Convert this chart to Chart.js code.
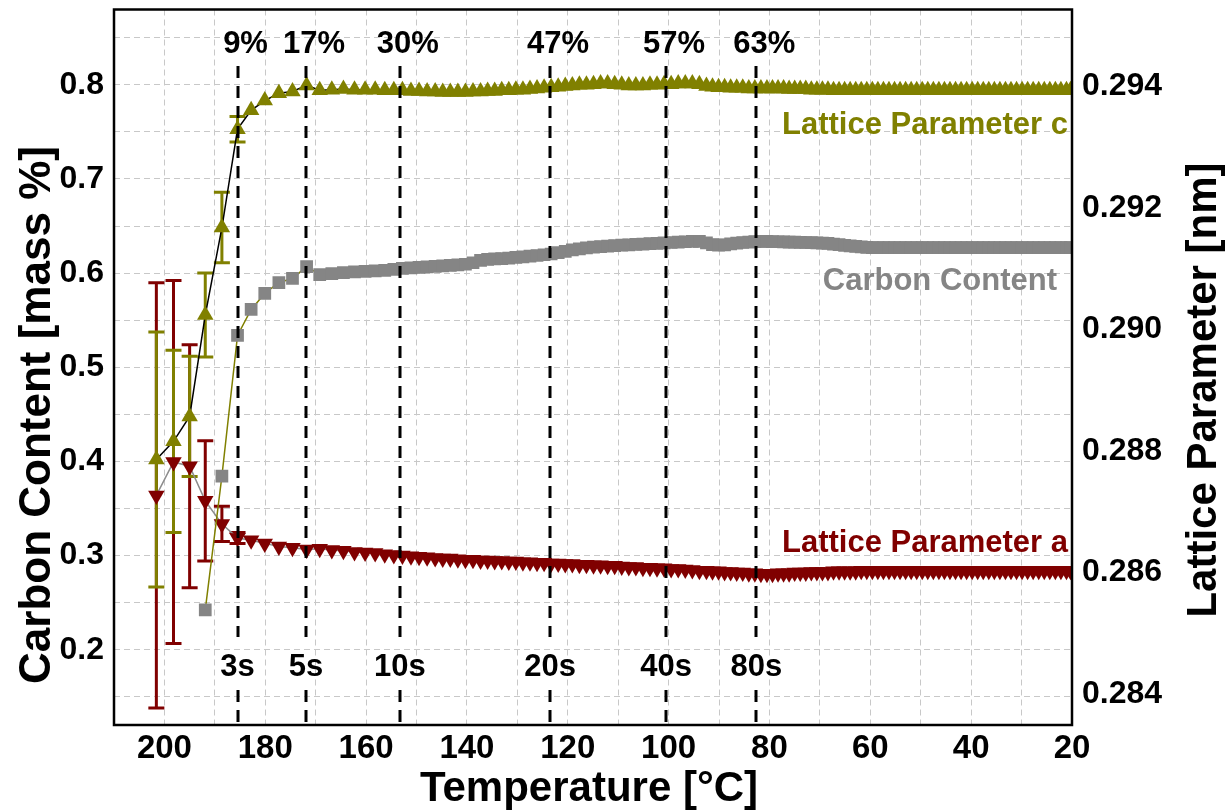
<!DOCTYPE html>
<html>
<head>
<meta charset="utf-8">
<script src="https://cdn.jsdelivr.net/npm/chart.js@4.4.1/dist/chart.umd.min.js"></script>
<style>
  html, body { margin: 0; padding: 0; background: #fff; }
  #contenedor { width: 1228px; height: 810px; }
</style>
</head>
<body>
<div id="contenedor"><canvas id="chartTemple" width="1228" height="810"></canvas></div>
<script>
// temperatura de cada medida [°C]
const temperaturas = [
    201.6, 198.2, 195.0, 191.9, 188.6, 185.5, 182.8, 180.1, 177.3, 174.6, 171.8, 169.2,
    166.8, 164.5, 162.3, 160.2, 158.2, 156.3, 154.5, 152.8, 151.1, 149.5,
    147.9, 146.3, 144.8, 143.3, 141.8, 140.3, 138.8, 137.3, 135.9, 134.5,
    133.1, 131.7, 130.3, 128.9, 127.5, 126.1, 124.7, 123.3, 121.9, 120.5,
    119.1, 117.7, 116.3, 114.9, 113.5, 112.1, 110.7, 109.3, 107.9, 106.5,
    105.1, 103.7, 102.3, 100.9, 99.5, 98.1, 96.7, 95.3, 93.9, 92.5,
    91.3, 90.1, 88.9, 87.7, 86.5, 85.3, 84.1, 82.9, 81.7, 80.5,
    79.4, 78.3, 77.2, 76.1, 75.0, 73.9, 72.8, 71.7, 70.6, 69.5,
    68.4, 67.3, 66.2, 65.1, 64.0, 62.9, 61.8, 60.7, 59.6, 58.5,
    57.4, 56.3, 55.2, 54.1, 53.0, 51.9, 50.8, 49.7, 48.6, 47.5,
    46.4, 45.3, 44.2, 43.1, 42.0, 40.9, 39.8, 38.7, 37.6, 36.5,
    35.4, 34.3, 33.2, 32.1, 31.0, 29.9, 28.8, 27.7, 26.6, 25.5,
    24.4, 23.3, 22.2, 21.1, 20.3
];

// parametro de red c [nm]
const paramC = [
    0.28786, 0.28816, 0.28857, 0.29024, 0.29168, 0.29330, 0.29361, 0.29377, 0.29389, 0.29392, 0.29402, 0.29394,
    0.29395, 0.29396, 0.29395, 0.29395, 0.29395, 0.29394, 0.29394, 0.29394, 0.29393, 0.29393,
    0.29392, 0.29392, 0.29391, 0.29391, 0.29391, 0.29391, 0.29392, 0.29392, 0.29393, 0.29393,
    0.29394, 0.29394, 0.29395, 0.29395, 0.29396, 0.29397, 0.29398, 0.29399, 0.29400, 0.29401,
    0.29402, 0.29403, 0.29403, 0.29404, 0.29405, 0.29405, 0.29404, 0.29403, 0.29402, 0.29402,
    0.29402, 0.29403, 0.29403, 0.29404, 0.29404, 0.29405, 0.29405, 0.29405, 0.29404, 0.29401,
    0.29400, 0.29399, 0.29399, 0.29398, 0.29398, 0.29398, 0.29397, 0.29397, 0.29397, 0.29397,
    0.29397, 0.29397, 0.29397, 0.29396, 0.29396, 0.29396, 0.29396, 0.29395, 0.29395, 0.29395,
    0.29395, 0.29394, 0.29394, 0.29394, 0.29394, 0.29394, 0.29394, 0.29394, 0.29394, 0.29394,
    0.29394, 0.29394, 0.29394, 0.29394, 0.29394, 0.29394, 0.29394, 0.29394, 0.29394, 0.29394,
    0.29394, 0.29394, 0.29394, 0.29394, 0.29394, 0.29394, 0.29394, 0.29394, 0.29394, 0.29394,
    0.29394, 0.29394, 0.29394, 0.29394, 0.29394, 0.29394, 0.29394, 0.29394, 0.29394, 0.29394,
    0.29394, 0.29394, 0.29394, 0.29394, 0.29394
];

// contenido de carbono [% masa]
const carbono = [
    null, null, null, 0.2422, 0.3843, 0.5338, 0.5614, 0.5784, 0.5900, 0.5943, 0.6070, 0.5985,
    0.5995, 0.6005, 0.6012, 0.6018, 0.6024, 0.6030, 0.6040, 0.6050, 0.6056, 0.6062,
    0.6067, 0.6072, 0.6077, 0.6082, 0.6088, 0.6094, 0.6110, 0.6135, 0.6145, 0.6150,
    0.6155, 0.6160, 0.6166, 0.6172, 0.6180, 0.6187, 0.6195, 0.6203, 0.6218, 0.6232,
    0.6246, 0.6258, 0.6268, 0.6276, 0.6282, 0.6287, 0.6292, 0.6297, 0.6301, 0.6305,
    0.6309, 0.6313, 0.6317, 0.6321, 0.6325, 0.6329, 0.6333, 0.6336, 0.6338, 0.6320,
    0.6302, 0.6296, 0.6300, 0.6310, 0.6318, 0.6325, 0.6330, 0.6335, 0.6336, 0.6336,
    0.6335, 0.6333, 0.6331, 0.6330, 0.6328, 0.6326, 0.6325, 0.6324, 0.6322, 0.6319,
    0.6315, 0.6309, 0.6302, 0.6295, 0.6289, 0.6283, 0.6278, 0.6274, 0.6271, 0.6270,
    0.6270, 0.6270, 0.6270, 0.6270, 0.6270, 0.6270, 0.6270, 0.6270, 0.6270, 0.6270,
    0.6270, 0.6270, 0.6270, 0.6270, 0.6270, 0.6270, 0.6270, 0.6270, 0.6270, 0.6270,
    0.6270, 0.6270, 0.6270, 0.6270, 0.6270, 0.6270, 0.6270, 0.6270, 0.6270, 0.6270,
    0.6270, 0.6270, 0.6270, 0.6270, 0.6270
];

// parametro de red a [nm]
const paramA = [
    0.28727, 0.28782, 0.28775, 0.28718, 0.28680, 0.28657, 0.28653, 0.28648, 0.28643, 0.28641, 0.28638, 0.28639,
    0.28637, 0.28636, 0.28634, 0.28633, 0.28632, 0.28630, 0.28629, 0.28628, 0.28627, 0.28626,
    0.28625, 0.28624, 0.28623, 0.28623, 0.28622, 0.28621, 0.28621, 0.28620, 0.28620, 0.28619,
    0.28619, 0.28618, 0.28618, 0.28617, 0.28617, 0.28616, 0.28616, 0.28615, 0.28615, 0.28614,
    0.28614, 0.28613, 0.28613, 0.28612, 0.28612, 0.28611, 0.28611, 0.28610, 0.28609, 0.28609,
    0.28608, 0.28608, 0.28607, 0.28607, 0.28606, 0.28606, 0.28605, 0.28604, 0.28603, 0.28603,
    0.28602, 0.28602, 0.28601, 0.28601, 0.28600, 0.28600, 0.28599, 0.28599, 0.28598, 0.28598,
    0.28598, 0.28599, 0.28599, 0.28599, 0.28600, 0.28600, 0.28600, 0.28601, 0.28601, 0.28601,
    0.28601, 0.28602, 0.28602, 0.28602, 0.28602, 0.28602, 0.28603, 0.28603, 0.28603, 0.28603,
    0.28603, 0.28603, 0.28603, 0.28603, 0.28603, 0.28603, 0.28603, 0.28603, 0.28603, 0.28603,
    0.28603, 0.28603, 0.28603, 0.28603, 0.28603, 0.28603, 0.28603, 0.28603, 0.28603, 0.28603,
    0.28603, 0.28603, 0.28603, 0.28603, 0.28603, 0.28603, 0.28603, 0.28603, 0.28603, 0.28603,
    0.28603, 0.28603, 0.28603, 0.28603, 0.28603
];

// barras de error (solo las primeras medidas)
const errorC = [0.00210, 0.00150, 0.00099, 0.00069, 0.00058, 0.00021];
const errorA = [0.00350, 0.00299, 0.00200, 0.00099, 0.00029, 0.00009];

// marcas de tiempo / fraccion transformada
const marcasT = [185.5, 171.9, 153.3, 123.5, 100.5, 82.6];
const etiquetasPct = ["9%", "17%", "30%", "47%", "57%", "63%"];
const etiquetasSeg = ["3s", "5s", "10s", "20s", "40s", "80s"];

// ticks de los ejes
const ticksTemp = [200, 190, 180, 170, 160, 150, 140, 130, 120, 110, 100, 90, 80, 70, 60, 50, 40, 30, 20];
const ticksCarbono = [0.15, 0.2, 0.25, 0.3, 0.35, 0.4, 0.45, 0.5, 0.55, 0.6, 0.65, 0.7, 0.75, 0.8, 0.85];
const ticksRed = [0.284, 0.286, 0.288, 0.290, 0.292, 0.294];

const OLIVA = "#808000";
const GRIS = "#858585";
const GRANATE = "#800000";
const FUENTE = '"Liberation Sans", Arial, sans-serif';

Chart.defaults.font.family = FUENTE;
Chart.defaults.font.weight = "bold";
Chart.defaults.color = "#000";

const puntos = (valores) => temperaturas.map((t, i) => ({ x: t, y: valores[i] }));

// barras de error por debajo de los marcadores
const barrasError = {
    id: "barrasError",
    beforeDatasetsDraw(chart) {
        const ctx = chart.ctx;
        const ejeX = chart.scales.x, ejeY = chart.scales.yRed;
        [[paramA, errorA, GRANATE], [paramC, errorC, OLIVA]].forEach(([valores, errores, color]) => {
            ctx.save();
            ctx.strokeStyle = color;
            ctx.lineWidth = 3;
            errores.forEach((e, i) => {
                const px = ejeX.getPixelForValue(temperaturas[i]);
                const arriba = ejeY.getPixelForValue(valores[i] + e);
                const abajo = ejeY.getPixelForValue(valores[i] - e);
                ctx.beginPath();
                ctx.moveTo(px, arriba); ctx.lineTo(px, abajo);
                ctx.moveTo(px - 8, arriba); ctx.lineTo(px + 8, arriba);
                ctx.moveTo(px - 8, abajo); ctx.lineTo(px + 8, abajo);
                ctx.stroke();
            });
            ctx.restore();
        });
    }
};

// lineas de tiempo, marco y rotulos
const anotaciones = {
    id: "anotaciones",
    afterDatasetsDraw(chart) {
        const ctx = chart.ctx;
        const { top, bottom, left, right } = chart.chartArea;
        const ejeX = chart.scales.x;

        ctx.save();
        ctx.strokeStyle = "#000";
        ctx.lineWidth = 3;
        ctx.setLineDash([12, 8]);
        marcasT.forEach((t) => {
            const px = Math.round(ejeX.getPixelForValue(t));
            ctx.beginPath();
            ctx.moveTo(px, 66); ctx.lineTo(px, 637);
            ctx.moveTo(px, 690); ctx.lineTo(px, bottom);
            ctx.stroke();
        });
        ctx.setLineDash([]);

        ctx.lineWidth = 2.5;
        ctx.strokeRect(left, top, right - left, bottom - top);

        ctx.fillStyle = "#000";
        ctx.textAlign = "center";
        ctx.textBaseline = "alphabetic";
        ctx.font = "bold 31px " + FUENTE;
        marcasT.forEach((t, i) => {
            const px = ejeX.getPixelForValue(t);
            ctx.fillText(etiquetasPct[i], px + 8, 53);
            ctx.fillText(etiquetasSeg[i], px, 676);
        });

        ctx.textAlign = "right";
        ctx.fillStyle = OLIVA;
        ctx.fillText("Lattice Parameter c", 1068, 134);
        ctx.fillStyle = GRIS;
        ctx.fillText("Carbon Content", 1057, 290);
        ctx.fillStyle = GRANATE;
        ctx.fillText("Lattice Parameter a", 1068, 552);
        ctx.restore();
    },
    afterDraw(chart) {
        const ctx = chart.ctx;
        ctx.save();
        ctx.fillStyle = "#000";
        ctx.textAlign = "center";
        ctx.textBaseline = "alphabetic";
        ctx.font = "bold 42px " + FUENTE;
        ctx.fillText("Temperature [°C]", 589, 801);

        ctx.save();
        ctx.font = "bold 44px " + FUENTE;
        ctx.translate(50, 415);
        ctx.rotate(-Math.PI / 2);
        ctx.fillText("Carbon Content [mass %]", 0, 0);
        ctx.restore();

        ctx.translate(1216, 390);
        ctx.rotate(-Math.PI / 2);
        ctx.fillText("Lattice Parameter [nm]", 0, 0);
        ctx.restore();
    }
};

const sinRelleno = (escala) => {
    escala.paddingTop = 0; escala.paddingBottom = 0;
    escala.paddingLeft = 0; escala.paddingRight = 0;
};

const ctx = document.getElementById("chartTemple").getContext("2d");
new Chart(ctx, {
    type: "line",
    data: {
        datasets: [
            {
                label: "Lattice Parameter c",
                data: puntos(paramC),
                yAxisID: "yRed",
                borderColor: "#000",
                borderWidth: 1.5,
                pointStyle: "triangle",
                pointRadius: 9.5,
                pointBorderWidth: 0,
                pointBackgroundColor: OLIVA
            },
            {
                label: "Carbon Content",
                data: puntos(carbono),
                yAxisID: "yCarbono",
                borderColor: OLIVA,
                borderWidth: 1.5,
                pointStyle: "rect",
                pointRadius: 9,
                pointBorderWidth: 0,
                pointBackgroundColor: GRIS
            },
            {
                label: "Lattice Parameter a",
                data: puntos(paramA),
                yAxisID: "yRed",
                borderColor: "#8c8c8c",
                borderWidth: 1.5,
                pointStyle: "triangle",
                pointRotation: 180,
                pointRadius: 9.5,
                pointBorderWidth: 0,
                pointBackgroundColor: GRANATE
            }
        ]
    },
    options: {
        responsive: false,
        devicePixelRatio: 1,
        animation: false,
        spanGaps: true,
        layout: { padding: { top: 8, right: 0, bottom: 0, left: 0 } },
        plugins: { legend: { display: false }, tooltip: { enabled: false } },
        scales: {
            x: {
                type: "linear",
                reverse: true,
                min: 20,
                max: 210,
                afterBuildTicks: (escala) => { escala.ticks = ticksTemp.map(v => ({ value: v })); },
                afterFit: (escala) => { escala.height = 85; sinRelleno(escala); },
                grid: { color: "#c8c8c8", lineWidth: 1, drawTicks: false },
                border: { display: false, dash: [6, 4] },
                ticks: {
                    autoSkip: false, maxRotation: 0, minRotation: 0, padding: 4,
                    font: { size: 33, weight: "bold" },
                    callback: (v) => (v % 20 === 0 ? String(v) : "")
                }
            },
            yCarbono: {
                type: "linear",
                position: "left",
                min: 0.12,
                max: 0.88,
                afterBuildTicks: (escala) => { escala.ticks = ticksCarbono.map(v => ({ value: v })); },
                afterFit: (escala) => { escala.width = 114; sinRelleno(escala); },
                grid: { color: "#c8c8c8", lineWidth: 1, drawTicks: false },
                border: { display: false, dash: [6, 4] },
                ticks: {
                    autoSkip: false, padding: 10,
                    font: { size: 32, weight: "bold" },
                    callback: (v) => (Math.round(v * 100) % 10 === 0 ? v.toFixed(1) : "")
                }
            },
            yRed: {
                type: "linear",
                position: "right",
                min: 0.28349,
                max: 0.29527,
                afterBuildTicks: (escala) => { escala.ticks = ticksRed.map(v => ({ value: v })); },
                afterFit: (escala) => { escala.width = 156; sinRelleno(escala); },
                grid: { drawOnChartArea: false, drawTicks: false },
                border: { display: false },
                ticks: {
                    autoSkip: false, padding: 10,
                    font: { size: 32, weight: "bold" },
                    callback: (v) => v.toFixed(3)
                }
            }
        }
    },
    plugins: [barrasError, anotaciones]
});
</script>
</body>
</html>
